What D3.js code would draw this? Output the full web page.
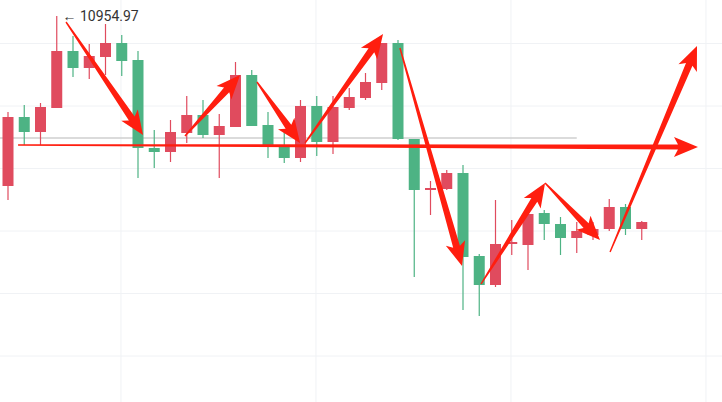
<!DOCTYPE html>
<html><head><meta charset="utf-8">
<script src="https://cdn.jsdelivr.net/npm/d3@7/dist/d3.min.js"></script>
<style>body{margin:0;background:#fff}svg{display:block}</style>
</head><body><svg id="c" width="722" height="402"></svg>
<script>
const opens  =[10615,10753,10723,10771,10885,10851,10873,10901,10867,10691,10683,10721,10757,10717,10733,10837,10737,10697,10671,10775,10703,10771,10791,10821,10901,10709,10607,10609,10641,10475,10417,10499,10497,10561,10539,10511,10517,10529,10573,10529];
const highs  =[10763,10777,10781,10954.97,10915,10899,10939,10917,10885,10727,10747,10795,10787,10759,10863,10847,10763,10727,10787,10795,10795,10811,10841,10901,10907,10709,10625,10647,10657,10479,10587,10547,10561,10567,10553,10543,10543,10589,10579,10545];
const lows   =[10587,10697,10697,10771,10833,10829,10837,10835,10631,10651,10663,10701,10711,10631,10733,10735,10671,10661,10663,10675,10679,10767,10787,10807,10707,10433,10557,10607,10367,10355,10413,10477,10447,10507,10477,10481,10507,10525,10517,10507];
const closes =[10753,10723,10773,10885,10851,10875,10901,10865,10691,10683,10723,10757,10717,10735,10837,10735,10697,10671,10775,10703,10773,10793,10823,10901,10709,10607,10611,10641,10473,10417,10499,10503,10559,10539,10511,10525,10529,10573,10529,10543];
const gridPrices=[10900,10775,10650,10525,10400,10275];
const gridIdx=[6.95,18.95,30.95,42.95];
const refPrice=10711;
const arrows=[[[3.57,10943],[8.31,10717],7],[[10.89,10715],[14.28,10837],7],[[15.32,10823],[17.97,10701],7],[[18.28,10701],[23.08,10919],7],[[0.62,10697],[42.46,10693],5],[[24.12,10891],[27.94,10455],7],[[29.11,10419],[33.05,10621],7],[[33.05,10621],[36.43,10507],7],[[37.05,10483],[42.4,10895],7]];
const maxLabel="← 10954.97";

const svg=d3.select("#c");
const x=d3.scaleLinear().domain([0,39]).range([8,641.75]);
const y=d3.scaleLinear().domain([10987,10183]).range([0,402]);
const g=svg.append("g");
gridPrices.forEach(p=>g.append("line").attr("x1",0).attr("x2",722).attr("y1",y(p)).attr("y2",y(p)).attr("stroke","#f0f2f5"));
gridIdx.forEach(i=>g.append("line").attr("y1",0).attr("y2",402).attr("x1",x(i)).attr("x2",x(i)).attr("stroke","#f0f2f5"));
g.append("line").attr("x1",0).attr("x2",x(35)).attr("y1",y(refPrice)).attr("y2",y(refPrice)).attr("stroke","#cfcfcf").attr("stroke-width",1.5);
const RED="#e04b5e",GREEN="#4db384";
opens.forEach((o,i)=>{
  const c=closes[i],col=c>=o?RED:GREEN,cx=x(i);
  g.append("line").attr("x1",cx).attr("x2",cx).attr("y1",y(highs[i])).attr("y2",y(lows[i])).attr("stroke",col).attr("stroke-width",1.2);
  const t=y(Math.max(o,c)),b=y(Math.min(o,c));
  g.append("rect").attr("x",cx-5.5).attr("width",11).attr("y",t).attr("height",Math.max(1.5,b-t)).attr("fill",col);
});
svg.append("text").attr("x",x(3.35)).attr("y",y(10954.97)+5).attr("font-family","Roboto, sans-serif").attr("font-size",14).attr("fill","#333").text(maxLabel);
arrows.forEach(([s,e,w])=>{
  const x1=x(s[0]),y1=y(s[1]),x2=x(e[0]),y2=y(e[1]);
  const dx=x2-x1,dy=y2-y1,L=Math.hypot(dx,dy),ux=dx/L,uy=dy/L,nx=-uy,ny=ux;
  const hl=20,hw=10,bx=x2-ux*hl,by=y2-uy*hl;
  const pts=[[x1+nx*0.7,y1+ny*0.7],[bx+nx*w/2,by+ny*w/2],[bx+nx*hw-ux*4,by+ny*hw-uy*4],[x2,y2],[bx-nx*hw-ux*4,by-ny*hw-uy*4],[bx-nx*w/2,by-ny*w/2],[x1-nx*0.7,y1-ny*0.7]];
  svg.append("polygon").attr("points",pts.map(p=>p.join(",")).join(" ")).attr("fill","#ff1e0f");
});
</script></body></html>
